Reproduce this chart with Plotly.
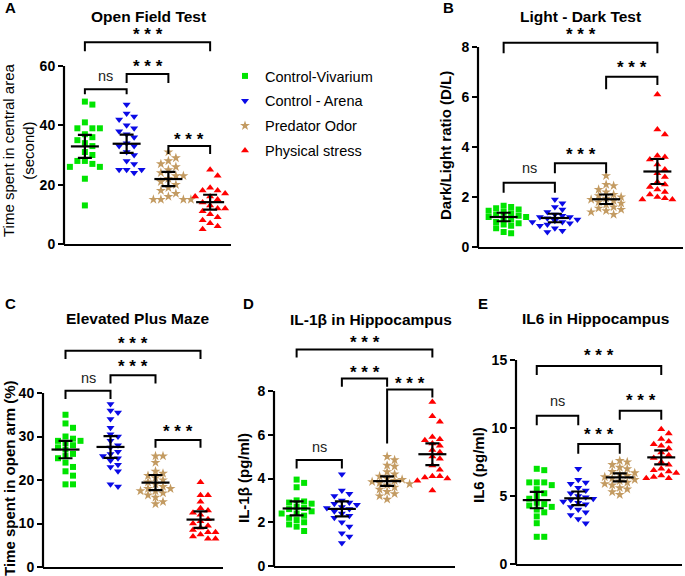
import plotly.graph_objects as go

# ---------------- data ----------------
groups = ["Control-Vivarium", "Control - Arena", "Predator Odor", "Physical stress"]

open_field = [
    [48, 47, 41, 39, 39, 39, 37, 36, 35, 34, 33, 31, 30, 28, 28, 27, 26, 26, 22, 13],
    [47, 44, 43, 42, 40, 39, 38, 37, 36, 34, 33, 33, 31, 30, 28, 27, 25, 25, 25, 24],
    [31, 29, 28, 27, 26, 25, 24, 23, 23, 22, 21, 20, 19, 18, 17, 16, 15, 15, 15, 15],
    [25, 23, 19, 18, 18, 17, 16, 16, 15, 14, 13, 12, 12, 11, 10, 9, 8, 7, 6, 5],
]
open_field_mean = [32.9, 33.8, 21.9, 14.1]
open_field_ci = [3.9, 3.1, 2.4, 2.5]

light_dark = [
    [1.65, 1.6, 1.55, 1.5, 1.45, 1.4, 1.35, 1.3, 1.25, 1.2, 1.2, 1.15, 1.1, 1.0, 0.95, 0.9, 0.85, 0.75, 0.6, 0.55],
    [1.9, 1.75, 1.6, 1.5, 1.4, 1.3, 1.25, 1.2, 1.2, 1.15, 1.1, 1.05, 1.0, 1.0, 0.95, 0.9, 0.85, 0.75, 0.65, 0.6],
    [2.85, 2.5, 2.45, 2.3, 2.2, 2.1, 2.05, 2.0, 1.95, 1.9, 1.85, 1.8, 1.75, 1.7, 1.6, 1.55, 1.5, 1.45, 1.4, 1.3],
    [6.1, 4.7, 4.5, 3.65, 3.6, 3.5, 3.3, 3.1, 2.95, 2.8, 2.6, 2.5, 2.4, 2.3, 2.2, 2.1, 2.0, 1.95, 1.9, 1.9],
]
light_dark_mean = [1.20, 1.16, 1.91, 3.02]
light_dark_ci = [0.17, 0.17, 0.19, 0.50]

plus_maze = [
    [35, 33, 32, 30, 29.5, 29, 29, 28.5, 28, 27.5, 27, 26, 25.5, 25, 24, 23, 22, 21, 19, 19],
    [37.5, 36, 35.5, 34, 32, 30.5, 30, 29, 28, 27.5, 26.5, 26, 25.5, 25, 24.5, 23.5, 23, 22, 19, 18.5],
    [25.5, 25.5, 24, 22, 21.5, 21, 20.5, 20, 19.5, 19, 18.5, 18, 18, 17.5, 17.5, 17, 16.5, 16, 15, 14.5],
    [19.5, 16.5, 16.5, 15, 13.5, 13, 12.5, 12, 11, 10.5, 10, 9.5, 9, 8.5, 8, 8, 7.5, 7, 6.5, 6.5],
]
plus_maze_mean = [27.0, 27.6, 19.4, 10.9]
plus_maze_ci = [2.0, 2.5, 1.75, 1.9]

il1b = [
    [3.95, 3.8, 3.6, 3.0, 2.95, 2.9, 2.85, 2.7, 2.65, 2.6, 2.5, 2.4, 2.4, 2.3, 2.2, 2.1, 2.0, 1.9, 1.8, 1.6],
    [4.2, 3.45, 3.3, 3.2, 3.0, 2.9, 2.85, 2.8, 2.7, 2.65, 2.6, 2.5, 2.4, 2.3, 2.2, 2.0, 1.8, 1.5, 1.35, 1.05],
    [5.0, 4.85, 4.6, 4.55, 4.3, 4.2, 4.1, 4.0, 3.95, 3.9, 3.85, 3.8, 3.75, 3.7, 3.6, 3.5, 3.4, 3.3, 3.2, 3.05],
    [7.5, 6.85, 6.6, 5.9, 5.8, 5.75, 5.6, 5.5, 5.3, 5.2, 5.0, 4.9, 4.6, 4.4, 4.1, 4.1, 4.05, 4.0, 3.9, 3.45],
]
il1b_mean = [2.63, 2.61, 3.88, 5.11]
il1b_ci = [0.32, 0.34, 0.22, 0.50]

il6 = [
    [7.0, 6.9, 6.0, 6.0, 6.0, 5.8, 5.5, 5.2, 5.0, 4.8, 4.5, 4.4, 4.3, 4.2, 4.0, 3.8, 3.5, 3.0, 2.0, 2.0],
    [7.0, 6.2, 6.0, 5.9, 5.6, 5.4, 5.2, 5.0, 4.9, 4.8, 4.7, 4.6, 4.5, 4.4, 4.2, 4.0, 3.8, 3.6, 3.3, 3.0],
    [7.6, 7.5, 7.3, 7.1, 7.0, 6.8, 6.7, 6.6, 6.5, 6.4, 6.3, 6.2, 6.1, 6.0, 5.9, 5.8, 5.6, 5.5, 5.3, 5.1],
    [9.9, 9.6, 9.2, 9.0, 8.8, 8.7, 8.5, 8.2, 8.0, 7.8, 7.5, 7.3, 7.0, 6.9, 6.8, 6.7, 6.5, 6.4, 6.3, 6.3],
]
il6_mean = [4.70, 4.83, 6.37, 7.84]
il6_ci = [0.60, 0.50, 0.30, 0.52]

titles = ["Open Field Test", "Light - Dark Test", "Elevated Plus Maze", "IL-1β in Hippocampus", "IL6 in Hippocampus"]
letters = ["A", "B", "C", "D", "E"]
ytitles = ["Time spent in central area<br>(second)", "<b>Dark/Light ratio (D/L)</b>",
           "<b>Time spent in open arm (%)</b>", "<b>IL-1β (pg/ml)</b>", "<b>IL6 (pg/ml)</b>"]
yticks = [[0, 20, 40, 60], [0, 2, 4, 6, 8], [0, 10, 20, 30, 40], [0, 2, 4, 6, 8], [0, 5, 10, 15]]

# significance brackets: (group i, group j, bar y, left leg y, right leg y, label, label y)
brackets = [
    [(0, 1, 52.2, 50.5, 50.5, "ns", 56.5), (1, 2, 57.3, 54.3, 54.3, "***", 61.3),
     (0, 3, 68.0, 65.0, 65.0, "***", 72.0), (2, 3, 33.0, 30.3, 30.3, "***", 36.7)],
    [(0, 1, 2.57, 2.17, 2.17, "ns", 3.15), (1, 2, 3.35, 2.95, 2.95, "***", 3.88),
     (0, 3, 8.17, 7.75, 7.75, "***", 8.68), (2, 3, 6.81, 6.31, 6.48, "***", 7.35)],
    [(0, 3, 49.7, 47.8, 47.8, "***", 52.2), (1, 2, 44.1, 42.2, 42.2, "***", 46.9),
     (0, 1, 40.5, 38.6, 38.6, "ns", 43.4), (2, 3, 29.2, 27.4, 27.4, "***", 32.0)],
    [(0, 3, 9.9, 9.53, 9.53, "***", 10.4), (1, 2, 8.57, 8.19, 8.19, "***", 9.04),
     (2, 3, 8.07, 5.6, 7.7, "***", 8.54), (0, 1, 4.84, 4.46, 4.46, "ns", 5.45)],
    [(0, 3, 14.56, 13.9, 13.9, "***", 15.6), (0, 1, 10.9, 10.2, 10.2, "ns", 12.0),
     (1, 2, 8.82, 8.1, 8.1, "***", 9.8), (2, 3, 11.27, 10.6, 10.6, "***", 12.3)],
]

datasets = [open_field, light_dark, plus_maze, il1b, il6]
means = [open_field_mean, light_dark_mean, plus_maze_mean, il1b_mean, il6_mean]
cis = [open_field_ci, light_dark_ci, plus_maze_ci, il1b_ci, il6_ci]

# ---------------- layout geometry (pixels) ----------------
W, H = 685, 576
# left, right, y of zero, y of top tick, top of plot area
geom = [
    (64, 231, 244, 66, 30),
    (478, 683, 247, 47, 30),
    (43, 223, 567, 393, 335),
    (274, 455, 566, 391, 335),
    (516, 682, 564, 360, 335),
]
title_pos = [(148, 16), (580, 16), (137, 318), (371, 319), (595, 318)]
letter_pos = [(10, 8), (448, 8), (10, 303), (248, 303), (483, 303)]
ytitle_pos = [(18, 150), (445, 146), (9, 478), (243, 478), (478, 465)]

symbols = ["square", "triangle-down", "star", "triangle-up"]
colors = ["#00E400", "#0A0AE6", "#C39B62", "#FF0000"]
sizes = [6, 7, 7.5, 7]

FONT = "Liberation Sans, Arial, sans-serif"


def fx(px):
    return px / W


def fy(py):
    return 1 - py / H


def swarm(vals, ppu_y, ppu_x, step=7.5, dist=6.0):
    order = sorted(range(len(vals)), key=lambda k: -vals[k])
    placed = []
    offs = [0.0] * len(vals)
    for k in order:
        y = vals[k] * ppu_y
        m = 0
        while True:
            cands = [0] if m == 0 else [m, -m]
            ok_x = None
            for c in cands:
                x = c * step
                if all(not (abs(x - px) < step - 0.1 and abs(y - py) < dist) for px, py in placed):
                    ok_x = x
                    break
            if ok_x is not None:
                placed.append((ok_x, y))
                offs[k] = ok_x / ppu_x
                break
            m += 1
    return offs


def ann(x, y, text, font, xref="paper", yref="paper", **kw):
    return dict(x=x, y=y, xref=xref, yref=yref, text=text, showarrow=False,
                xanchor="center", yanchor="middle", font=font, **kw)


fig = go.Figure()
layout = dict(width=W, height=H, margin=dict(l=0, r=0, t=0, b=0, pad=0, autoexpand=False),
              paper_bgcolor="white", plot_bgcolor="white",
              font=dict(family=FONT, color="black"),
              annotations=[], shapes=[])

for p in range(5):
    left, right, y0, ytp, top = geom[p]
    ymax = yticks[p][-1]
    ppu_y = (y0 - ytp) / ymax
    R = (y0 - top) / ppu_y
    ppu_x = (right - left) / 4.0
    ax = "" if p == 0 else str(p + 1)
    layout["xaxis" + ax] = dict(domain=[fx(left), fx(right)], range=[-0.5, 3.5], anchor="y" + ax,
                                showline=True, linewidth=2.2, linecolor="black", ticks="",
                                showticklabels=False, showgrid=False, zeroline=False,
                                automargin=False)
    layout["yaxis" + ax] = dict(domain=[fy(y0), fy(top)], range=[0, R], anchor="x" + ax,
                                showline=False, ticks="outside", ticklen=5, tickwidth=2,
                                tickcolor="black", tickvals=yticks[p],
                                tickfont=dict(size=14, weight="bold", family=FONT),
                                showgrid=False, zeroline=False, automargin=False)
    # y axis line limited to tick range
    layout["shapes"].append(dict(type="line", xref="paper", yref="paper",
                                 x0=fx(left), x1=fx(left), y0=fy(y0 + 1), y1=fy(ytp),
                                 line=dict(color="black", width=2.2)))
    for g in range(4):
        vals = datasets[p][g]
        offs = swarm(vals, ppu_y, ppu_x)
        fig.add_trace(go.Scatter(
            x=[g + o for o in offs], y=vals, mode="markers",
            marker=dict(symbol=symbols[g], size=sizes[g], color=colors[g], line=dict(width=0)),
            xaxis="x" + ax, yaxis="y" + ax, cliponaxis=False,
            name=groups[g], legendgroup=groups[g], showlegend=(p == 0)))
    fig.add_trace(go.Scatter(
        x=[0, 1, 2, 3], y=means[p], mode="markers",
        marker=dict(symbol="line-ew", size=20, color="black", line=dict(width=2.2, color="black")),
        error_y=dict(type="data", array=cis[p], visible=True, color="black", thickness=2.2, width=7),
        xaxis="x" + ax, yaxis="y" + ax, cliponaxis=False, showlegend=False, hoverinfo="skip"))
    # brackets
    for (i, j, yb, yl, yr, lab, ly) in brackets[p]:
        layout["shapes"].append(dict(type="path", xref="x" + ax, yref="y" + ax,
                                     path=f"M {i},{yl} L {i},{yb} L {j},{yb} L {j},{yr}",
                                     line=dict(color="black", width=2)))
        if lab == "ns":
            layout["annotations"].append(ann((i + j) / 2, ly, "ns",
                                             dict(size=14.5, family=FONT, color="#222"),
                                             xref="x" + ax, yref="y" + ax))
        else:
            layout["annotations"].append(ann((i + j) / 2, ly, "<b>* * *</b>",
                                             dict(size=17, family=FONT, color="black"),
                                             xref="x" + ax, yref="y" + ax, yshift=-4))
    tx, ty = title_pos[p]
    layout["annotations"].append(ann(fx(tx), fy(ty), "<b>" + titles[p] + "</b>",
                                     dict(size=15.5, family=FONT)))
    lx, ly2 = letter_pos[p]
    layout["annotations"].append(ann(fx(lx), fy(ly2), "<b>" + letters[p] + "</b>",
                                     dict(size=15, family=FONT)))
    yx, yy = ytitle_pos[p]
    layout["annotations"].append(ann(fx(yx), fy(yy), ytitles[p], dict(size=15, family=FONT),
                                     textangle=-90))

layout["legend"] = dict(x=fx(225), y=fy(60), xanchor="left", yanchor="top",
                        font=dict(size=14.5, family=FONT), tracegroupgap=3,
                        bgcolor="rgba(0,0,0,0)")
fig.update_layout(**layout)
fig.write_html("out.html", config={"displayModeBar": False},
               post_script="document.body.style.margin='0';document.body.style.padding='0';"
                           "document.body.style.overflow='hidden';")
